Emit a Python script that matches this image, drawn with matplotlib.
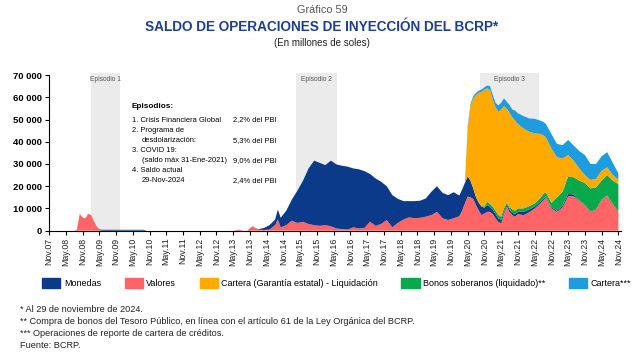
import numpy as np
import matplotlib.pyplot as plt
from matplotlib.patches import Patch
from matplotlib.ticker import FuncFormatter

plt.rcParams['font.family'] = ['Liberation Sans', 'DejaVu Sans']

# meses contados desde nov-2007 (0 = Nov.07, 204 = Nov.24)
meses = [0, 9, 10, 11, 12, 13, 14, 15, 16, 17, 18, 19, 34, 35, 66, 68, 70, 71, 72, 73, 74, 75,
         77, 79, 81, 82, 83, 85, 87, 89, 91, 93, 95, 97, 99, 101, 103, 105, 107, 109, 111, 113,
         115, 117, 119, 121, 123, 125, 127, 129, 131, 133, 135, 137, 139, 141, 143, 145, 147, 148, 149,
         150, 151, 152, 153, 154, 155, 156, 157, 158, 159, 160, 161, 162, 163, 164, 165, 166, 167, 168,
         170, 172, 174, 176, 177, 178, 180, 182, 184, 186, 188, 190, 192, 194, 196, 198, 200, 202, 204]

# millones de soles
valores = [0, 0, 500, 7500, 6000, 5500, 7500, 7200, 4500, 2000, 400, 0, 0, 0, 0, 500, 0, 0, 1200, 2000, 1200, 500,
           300, 500, 2500, 5000, 1500, 2500, 4500, 3500, 4000, 3000, 2500, 2200, 2500, 2000, 1000, 700, 500, 1500, 1000, 1200,
           4000, 2200, 3000, 4800, 1500, 3500, 5000, 6000, 5600, 5800, 6300, 7000, 8500, 5600, 4800, 5600, 6500, 9000, 12300,
           15300, 15000, 14300, 11500, 9000, 7000, 7800, 8500, 8500, 7500, 5600, 4000, 3300, 7800, 11000, 8500, 7000, 6300, 7500,
           7000, 8300, 10000, 12300, 13500, 15000, 10000, 8500, 10500, 15500, 15500, 13500, 11500, 8500, 9500, 14000, 15800, 12000, 8500]
monedas = [0, 0, 0, 0, 0, 0, 0, 0, 0, 0, 200, 400, 400, 0, 0, 0, 0, 0, 0, 0, 0, 200,
           900, 2000, 2500, 4500, 4300, 6500, 9500, 14500, 18500, 25000, 29000, 28300, 27000, 29500, 28800, 28500, 28300, 26500, 26600, 25600,
           21500, 21300, 19000, 15200, 14500, 10800, 8300, 7300, 7700, 7700, 8200, 10500, 11500, 11400, 11200, 11700, 9300, 9500, 9200,
           9200, 7500, 4700, 3500, 3500, 3800, 2500, 3000, 2300, 1800, 1900, 1500, 1500, 700, 800, 1000, 1000, 1200, 1000,
           1500, 1200, 800, 700, 800, 500, 500, 500, 800, 1000, 800, 100, 0, 0, 0, 0, 0, 0, 0]
sin_saldo = [0] * 61
bonos = sin_saldo + [0, 0, 0, 0, 0, 200, 600, 1500, 1200, 1500, 1500, 1500, 1500, 1500, 700, 1000, 1500, 1500, 1500,
                     1500, 1500, 1500, 1600, 2200, 1800, 2000, 6000, 6200, 8000, 7700, 8900, 10000, 10500, 10000, 8500, 9200, 10500, 12500]
garantia = sin_saldo + [21500, 33500, 40500, 46000, 49500, 51500, 52600, 51000, 51500, 48200, 46500, 46500, 48200, 46000, 42500, 42500, 41500, 40500, 38000,
                        36000, 33500, 31500, 28900, 26500, 24700, 24500, 18000, 15000, 9500, 7500, 5500, 3500, 3800, 3800, 4500, 3500, 2500, 2000]
cartera = sin_saldo + [1000, 1000, 1000, 1000, 1000, 1000, 1000, 1300, 1500, 2000, 2000, 2800, 3000, 3500, 3000, 3500, 3500, 4500, 4800,
                       5500, 6000, 6500, 6000, 6000, 6000, 6500, 6000, 6000, 6800, 6800, 7800, 9000, 7200, 6700, 6500, 6800, 5500, 2800]

etiquetas = ['Nov.07', 'May.08', 'Nov.08', 'May.09', 'Nov.09', 'May.10', 'Nov.10', 'May.11', 'Nov.11',
             'May.12', 'Nov.12', 'May.13', 'Nov.13', 'May.14', 'Nov.14', 'May.15', 'Nov.15', 'May.16',
             'Nov.16', 'May.17', 'Nov.17', 'May.18', 'Nov.18', 'May.19', 'Nov.19', 'May.20', 'Nov.20',
             'May.21', 'Nov.21', 'May.22', 'Nov.22', 'May.23', 'Nov.23', 'May.24', 'Nov.24']

episodios = ['Episodio 1', 'Episodio 2', 'Episodio 3']
ep_inicio = [15.0, 88.5, 154.5]
ep_fin = [25.4, 103.3, 175.7]

c_mon = '#0b3a8a'
c_val = '#ff6466'
c_gar = '#ffaa00'
c_bon = '#08a84c'
c_car = '#1d9de0'

fig = plt.figure(figsize=(6.4, 3.56), dpi=100)
ax = fig.add_axes([0.0766, 0.352, 0.894, 0.4435])

for nombre, a, b in zip(episodios, ep_inicio, ep_fin):
    ax.axvspan(a, b, ymin=0, ymax=1, color='#ebebeb', lw=0, zorder=0)
    ax.text((a + b) / 2, 67800, nombre, ha='center', va='center', fontsize=4.8, color='#555555')

ax.stackplot(meses, valores, monedas, bonos, garantia, cartera,
             colors=[c_val, c_mon, c_bon, c_gar, c_car], lw=0, zorder=2)

ax.set_xlim(0, 205)
ax.set_ylim(0, 71000)
ax.set_xticks(range(0, 205, 6))
ax.set_xticklabels(etiquetas, rotation=90, fontsize=6.3, color='#222222')
ax.set_yticks(range(0, 70001, 10000))
ax.yaxis.set_major_formatter(FuncFormatter(lambda v, p: f'{int(v):,}'.replace(',', ' ')))
for lb in ax.get_yticklabels():
    lb.set_fontweight('bold')
ax.tick_params(axis='y', labelsize=6.8, length=3, width=0.8, pad=2)
ax.tick_params(axis='x', length=3, width=0.8, pad=2)
ax.spines['top'].set_visible(False)
ax.spines['right'].set_visible(False)
ax.spines['left'].set_bounds(0, 70000)

# recuadro de episodios
tr = ax.transAxes
fs = 5.4
x1, x2, x3 = 0.1446, 0.162, 0.322
ax.text(x1, 0.785, 'Episodios:', transform=tr, fontsize=5.9, fontweight='bold', va='center')
ax.text(x1, 0.701, '1. Crisis Financiera Global', transform=tr, fontsize=fs, va='center')
ax.text(x3, 0.701, '2,2% del PBI', transform=tr, fontsize=fs, va='center')
ax.text(x1, 0.633, '2. Programa de', transform=tr, fontsize=fs, va='center')
ax.text(x2, 0.570, 'desdolarización:', transform=tr, fontsize=fs, va='center')
ax.text(x3, 0.570, '5,3% del PBI', transform=tr, fontsize=fs, va='center')
ax.text(x1, 0.507, '3. COVID 19:', transform=tr, fontsize=fs, va='center')
ax.text(x2, 0.443, '(saldo máx 31-Ene-2021)', transform=tr, fontsize=fs, va='center')
ax.text(x3, 0.443, '9,0% del PBI', transform=tr, fontsize=fs, va='center')
ax.text(x1, 0.380, '4. Saldo actual', transform=tr, fontsize=fs, va='center')
ax.text(x2, 0.317, '29-Nov-2024', transform=tr, fontsize=fs, va='center')
ax.text(x3, 0.317, '2,4% del PBI', transform=tr, fontsize=fs, va='center')

# titulos
fig.text(0.503, 0.972, 'Gráfico 59', ha='center', va='center', fontsize=7.8, color='#555555')
fig.text(0.503, 0.924, 'SALDO DE OPERACIONES DE INYECCIÓN DEL BCRP*', ha='center', va='center',
         fontsize=9.8, fontweight='bold', color='#1c3f94')
fig.text(0.503, 0.879, '(En millones de soles)', ha='center', va='center', fontsize=7, color='#222222')

handles = [Patch(color=c_mon), Patch(color=c_val), Patch(color=c_gar), Patch(color=c_bon), Patch(color=c_car)]
nombres = ['Monedas', 'Valores', 'Cartera (Garantía estatal) - Liquidación',
           'Bonos soberanos (liquidado)**', 'Cartera***']
fig.legend(handles, nombres, loc='center', bbox_to_anchor=(0.526, 0.205), ncol=5, frameon=False,
           fontsize=6.5, handlelength=2.0, handleheight=1.4, handletextpad=0.4, columnspacing=2.6)

notas = ['* Al 29 de noviembre de 2024.',
         '** Compra de bonos del Tesoro Público, en línea con el artículo 61 de la Ley Orgánica del BCRP.',
         '*** Operaciones de reporte de cartera de créditos.',
         'Fuente: BCRP.']
for i, n in enumerate(notas):
    fig.text(0.031, 1 - (309 + 12 * i) / 356, n, fontsize=6.6, va='center', color='#222222')

fig.savefig('out.png', dpi=100)
